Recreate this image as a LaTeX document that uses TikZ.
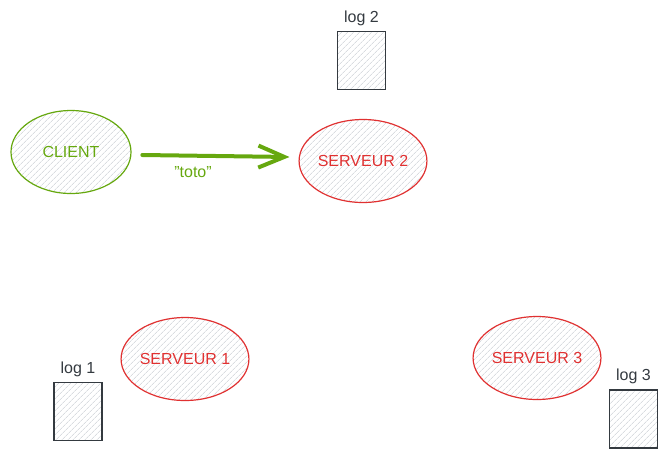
\documentclass[tikz,border=0pt]{standalone}
\usepackage{fontspec}
\setmainfont{Liberation Sans}
\usetikzlibrary{shapes.geometric,arrows.meta,patterns.meta}
\definecolor{exgreen}{HTML}{66A80F}
\definecolor{exred}{HTML}{E03131}
\definecolor{exgray}{HTML}{343A40}
\definecolor{hatch}{HTML}{C4CAD0}
\tikzset{
  hatched/.style={pattern={Lines[angle=45,distance=4pt,line width=0.6pt]},pattern color=hatch},
  oval/.style={ellipse,draw,line width=1.2pt,hatched,minimum width=120pt,minimum height=83pt,inner sep=0pt,font=\fontsize{16pt}{18pt}\selectfont},
  client/.style={oval,draw=exgreen,text=exgreen},
  server/.style={oval,draw=exred,text=exred},
  logbox/.style={draw=exgray,line width=1.3pt,hatched,minimum width=48pt,minimum height=58pt,inner sep=0pt},
  loglabel/.style={text=exgray,font=\fontsize{16pt}{18pt}\selectfont,inner sep=0pt,anchor=south},
  msg/.style={draw=exgreen,line width=4pt,line cap=round,-{Straight Barb[length=26pt,width=22pt,line width=4pt]}},
  msglabel/.style={text=exgreen,font=\fontsize{16pt}{18pt}\selectfont}
}
\begin{document}
\begin{tikzpicture}[x=1pt,y=-1pt]
\useasboundingbox (0,0) rectangle (668,458);
\node[client] (client) at (71,152) {CLIENT};
\node[server] (s2) at (363,161) {SERVEUR 2};
\node[server] (s1) at (185,359) {SERVEUR 1};
\node[server] (s3) at (537,358) {SERVEUR 3};
\node[logbox] (log2) at (361.5,60.5) {};
\node[logbox] (log1) at (78,411.5) {};
\node[logbox] (log3) at (633.5,419) {};
\node[loglabel] (l2) at ([yshift=5pt]log2.north) {log 2};
\node[loglabel] (l1) at ([yshift=5pt]log1.north) {log 1};
\node[loglabel] (l3) at ([yshift=5pt]log3.north) {log 3};
\coordinate (a0) at ([xshift=11pt,yshift=-3pt]client.east);
\coordinate (a1) at ([xshift=-9pt,yshift=4pt]s2.west);
\draw[msg] (a0) -- (a1);
\node[msglabel] (toto) at (193,172) {"toto"};
\end{tikzpicture}
\end{document}
